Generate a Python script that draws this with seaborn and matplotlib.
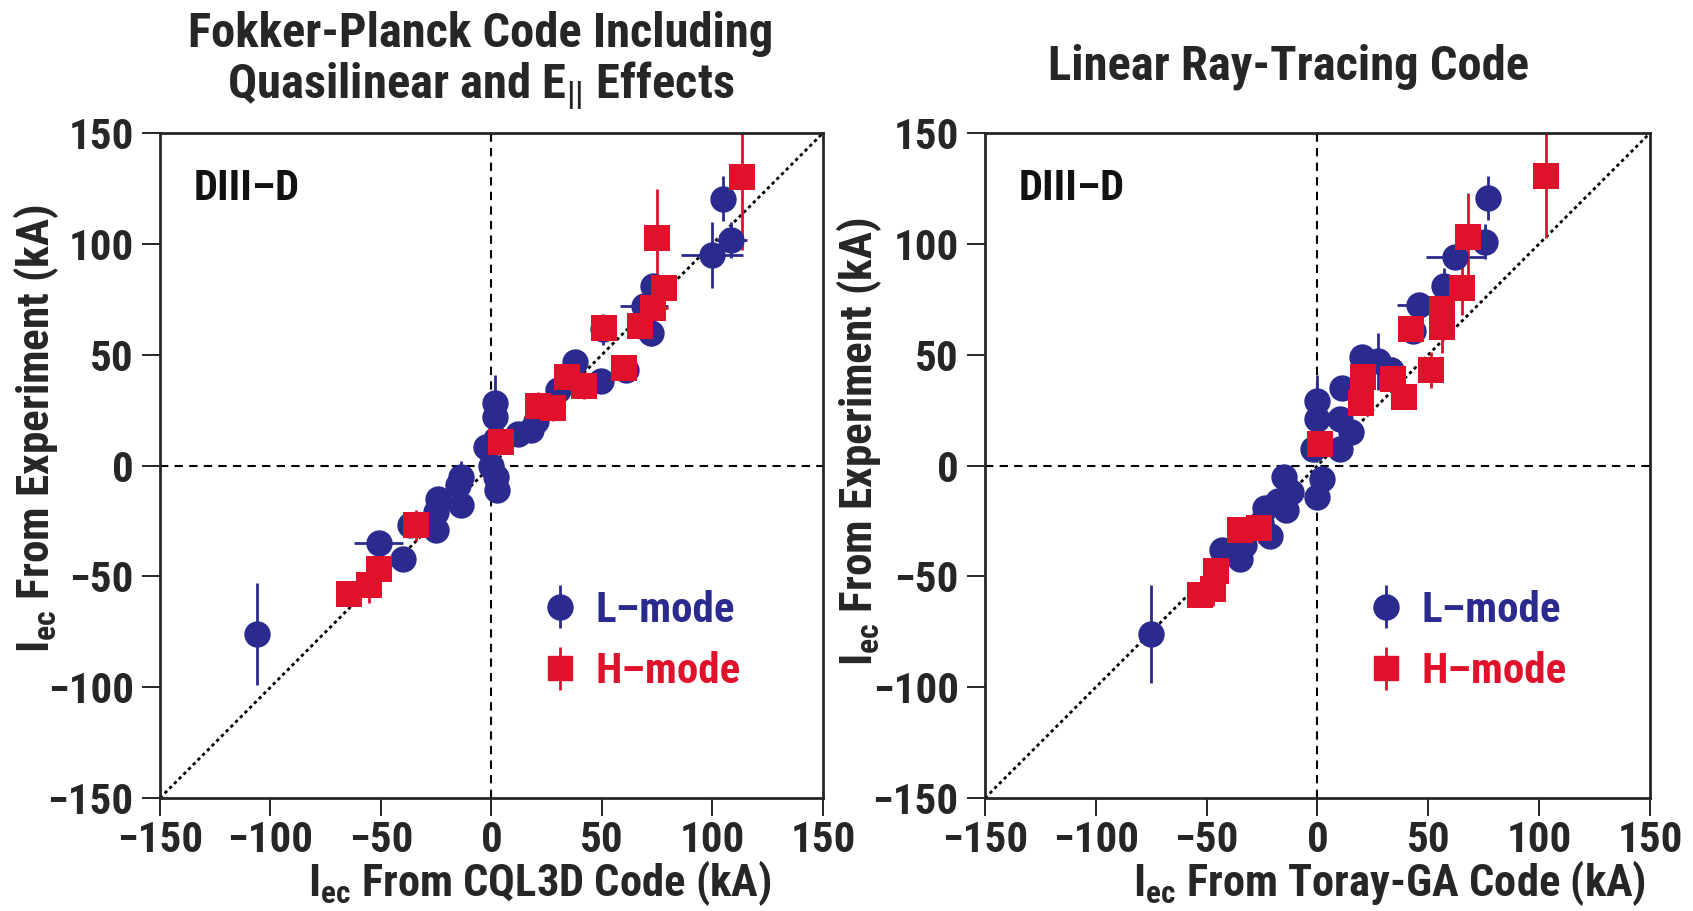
import numpy as np
import pandas as pd
import matplotlib
matplotlib.use("Agg")
import matplotlib.pyplot as plt
import seaborn as sns
from matplotlib import font_manager

# ---------------- data (kA) ----------------
# Left panel: CQL3D (x) vs experiment (y)
cql_L_x    = [-106, 104.6, 108.5, 99.7, 73, 72, 69, 50.5, 61, 49.5, 37.7, 30, 18, 12, 20, 1.4, 1.4, -2.5, 2, 2.4, 2, 0, -14, -15, -24, -25, -14, -25, -37, -51, -40]
cql_L_y    = [-76, 120.4, 101.8, 95, 81, 60, 72, 61.5, 43, 38, 46.8, 34, 16, 14, 20, 28, 22, 8.5, 12, -11, -5, 0, -5, -9, -15, -21, -18, -29, -27, -35, -42]
cql_L_yerr = [23, 10, 8, 15, 4, 6, 4, 7, 4, 4, 5, 8, 3, 3, 3, 13, 4, 3, 3, 5, 3, 3, 7, 3, 4, 3, 3, 4, 3, 4, 3]
cql_L_xerr = [0, 3, 7, 14, 3, 3, 11, 3, 3, 3, 3, 3, 3, 3, 3, 0, 0, 3, 3, 3, 0, 0, 3, 3, 3, 3, 3, 3, 3, 11, 3]

cql_H_x    = [113.4, 74.7, 78, 73, 67, 51, 60, 41.7, 34, 28, 21, 4.3, -34, -51, -55.6, -64.5]
cql_H_y    = [130, 102.8, 80, 71, 63, 62, 44, 36, 40, 26, 27, 10.4, -27, -46.5, -54, -58]
cql_H_yerr = [33, 22, 6, 8, 6, 5, 6, 6, 8, 6, 6, 5, 7, 6, 8, 5]
cql_H_xerr = [3, 3, 3, 7, 3, 3, 3, 3, 3, 3, 3, 3, 3, 3, 3, 3]

# Right panel: Toray-GA (x) vs experiment (y)
tor_L_x    = [-75, 76.7, 75.7, 62, 57, 46, 43, 27.5, 33, 20, 11, 0, 0, 10, 15, -2, 10, 2, 0, -15, -12, -18, -23.6, -14, -25.6, -21.6, -35, -43, -33]
tor_L_y    = [-76, 120.7, 101, 94, 81, 72.4, 60.6, 47, 43, 49, 35, 29, 21, 21, 15, 7.5, 7.5, -6, -14, -5, -12, -16, -19, -20, -26, -32, -42, -38, -36]
tor_L_yerr = [22, 10, 8, 5, 8, 4, 5, 13, 4, 4, 4, 12, 4, 4, 4, 3, 3, 4, 5, 4, 4, 3, 3, 3, 5, 3, 3, 3, 3]
tor_L_xerr = [0, 3, 4, 13, 3, 10, 3, 3, 3, 3, 3, 0, 0, 3, 3, 3, 3, 3, 0, 3, 3, 3, 3, 3, 3, 3, 3, 5, 3]

tor_H_x    = [103, 68, 65, 56, 56, 42, 51, 39, 20.7, 19.7, 34, 1, -35, -26.6, -46, -47, -53]
tor_H_y    = [130.5, 103, 80, 70.5, 62.6, 61.6, 43, 31, 40, 28, 39, 9.5, -29, -28, -47.6, -55.5, -58.5]
tor_H_yerr = [28, 20, 12, 6, 12, 5, 8, 5, 8, 5, 10, 5, 5, 7, 6, 8, 5]
tor_H_xerr = [3, 3, 3, 3, 3, 3, 3, 3, 3, 3, 3, 3, 3, 3, 3, 3, 3]

ticks = [-150, -100, -50, 0, 50, 100, 150]
panel_titles = ["Fokker-Planck Code Including\nQuasilinear and E$_{||}$ Effects",
                "Linear Ray-Tracing Code"]
x_labels = ["I$_{\\mathrm{ec}}$ From CQL3D Code (kA)",
            "I$_{\\mathrm{ec}}$ From Toray-GA Code (kA)"]
y_label = "I$_{\\mathrm{ec}}$ From Experiment (kA)"
mode_names = ["L\u2013mode", "H\u2013mode"]
tag = "DIII\u2013D"

# ---------------- style ----------------
sns.set_style("ticks")
fam = []
for f in ["Roboto Condensed", "Liberation Sans Narrow", "Liberation Sans", "DejaVu Sans"]:
    try:
        font_manager.findfont(font_manager.FontProperties(family=f, weight="bold"),
                              fallback_to_default=False)
        fam.append(f)
    except Exception:
        pass
plt.rcParams['font.family'] = fam
plt.rcParams['font.weight'] = 'bold'
plt.rcParams['font.stretch'] = 'condensed'
plt.rcParams['mathtext.fontset'] = 'custom'
plt.rcParams['mathtext.rm'] = fam[0] + ':bold'
plt.rcParams['mathtext.it'] = fam[0] + ':bold'
plt.rcParams['mathtext.bf'] = fam[0] + ':bold'
plt.rcParams['axes.unicode_minus'] = True

BLUE = "#2b2a8e"
RED = "#e0112b"

fig = plt.figure(figsize=(16.93, 9.11), dpi=100)
ax1 = fig.add_axes([0.0945, 0.124, 0.3916, 0.730])
ax2 = fig.add_axes([0.5818, 0.124, 0.3928, 0.730])

panels = [
    (ax1, (cql_L_x, cql_L_y, cql_L_xerr, cql_L_yerr), (cql_H_x, cql_H_y, cql_H_xerr, cql_H_yerr)),
    (ax2, (tor_L_x, tor_L_y, tor_L_xerr, tor_L_yerr), (tor_H_x, tor_H_y, tor_H_xerr, tor_H_yerr)),
]
title_pos = [(0.483, 1.108), (0.457, 1.100)]
xlabel_pos = [(0.573, -0.090), (0.609, -0.090)]
ylabel_pos = [(-0.150, 0.556), (-0.152, 0.535)]

for i, (ax, L, H) in enumerate(panels):
    # reference lines
    ax.plot(ticks[::6], ticks[::6], ls=(0, (1.2, 1.2)), color="black", lw=2.0, zorder=1)
    ax.axvline(0, ls=(0, (4, 3)), color="black", lw=1.5, zorder=1)
    ax.axhline(0, ls=(0, (4, 3)), color="black", lw=1.5, zorder=1)

    for (x, y, xe, ye), col, mk, ms in [(L, BLUE, "o", 360), (H, RED, "s", 340)]:
        xe_arr = np.where(np.array(xe) > 0, xe, np.nan)
        ax.errorbar(x, y, yerr=ye, fmt="none", ecolor=col, elinewidth=2.0, capsize=0, zorder=2)
        ax.errorbar(x, y, xerr=xe_arr, fmt="none", ecolor=col, elinewidth=2.0, capsize=0, zorder=2)
        df = pd.DataFrame({"x": x, "y": y})
        sns.scatterplot(data=df, x="x", y="y", ax=ax, marker=mk, s=ms, color=col,
                        edgecolor=col, linewidth=0, zorder=3, legend=False)

    ax.set_xlim(-150, 150)
    ax.set_ylim(-150, 150)
    ax.set_xticks(ticks)
    ax.set_yticks(ticks)
    ax.tick_params(direction="out", length=13, width=1.4, labelsize=31)
    ax.tick_params(axis="x", pad=3)
    ax.tick_params(axis="y", pad=6)
    for lab in ax.get_xticklabels() + ax.get_yticklabels():
        lab.set_fontweight("bold")
    for s in ax.spines.values():
        s.set_linewidth(2.0)
        s.set_visible(True)
    ax.set_xlabel(x_labels[i], fontsize=32, fontweight="bold")
    ax.set_ylabel(y_label, fontsize=32.5, fontweight="bold")
    ax.xaxis.set_label_coords(*xlabel_pos[i])
    ax.yaxis.set_label_coords(*ylabel_pos[i])
    ax.text(title_pos[i][0], title_pos[i][1], panel_titles[i], transform=ax.transAxes, fontsize=35,
            fontweight="bold", ha="center", va="center", linespacing=1.05, multialignment="center")

    ax.text(0.05, 0.917, tag, transform=ax.transAxes, fontsize=30.5, fontweight="bold",
            va="center", ha="left", color="#111111")

    # legend
    hL = ax.errorbar([np.nan], [np.nan], yerr=[1], fmt="o", color=BLUE, ms=18, elinewidth=2.0,
                     capsize=0, label=mode_names[0])
    hH = ax.errorbar([np.nan], [np.nan], yerr=[1], fmt="s", color=RED, ms=17, elinewidth=2.0,
                     capsize=0, label=mode_names[1])
    leg = ax.legend(handles=[hL, hH], loc="center left", bbox_to_anchor=(0.55, 0.236),
                    frameon=False, fontsize=31, handlelength=0.85, handletextpad=0.4,
                    labelspacing=0.47, borderaxespad=0)
    for t, c in zip(leg.get_texts(), [BLUE, RED]):
        t.set_color(c)
        t.set_fontweight("bold")

fig.savefig("out.png", dpi=100)
